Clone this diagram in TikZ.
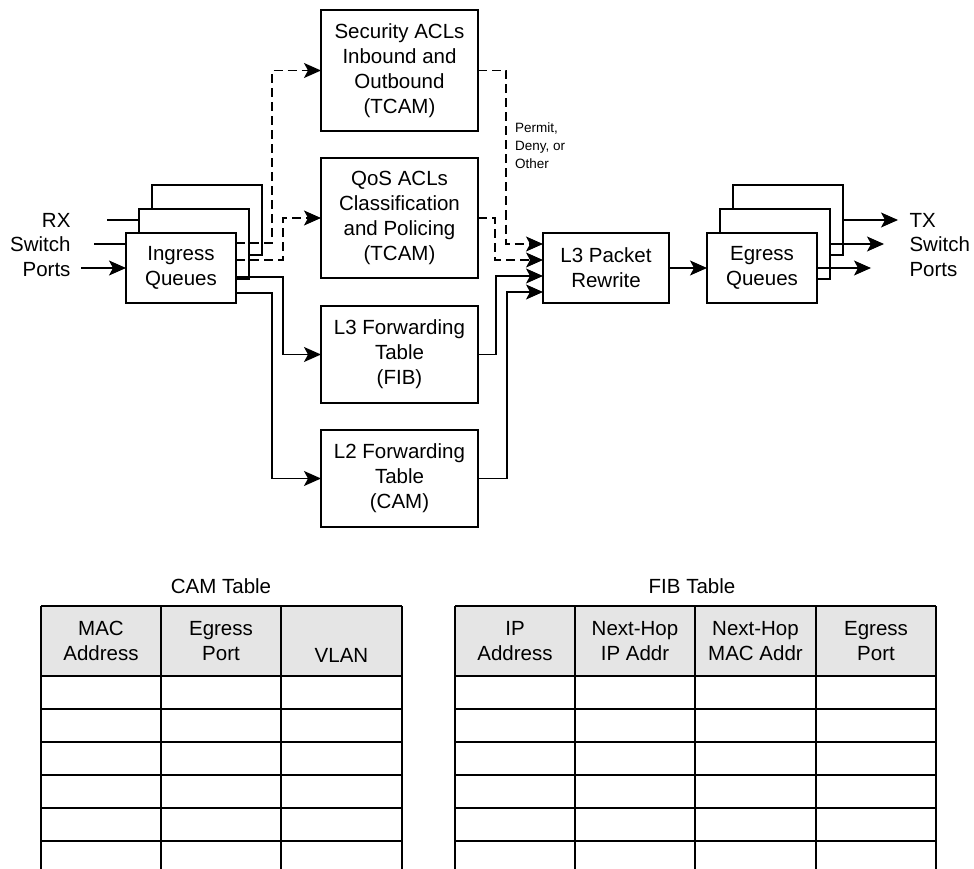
\documentclass[tikz,border=0pt]{standalone}
\usepackage{fontspec}
\setmainfont{Liberation Sans}
\usetikzlibrary{arrows.meta}
\begin{document}
\begin{tikzpicture}[x=1pt,y=-1pt,
  every node/.style={font=\fontsize{20.5}{25}\selectfont, text=black},
  box/.style={draw, line width=1.2pt, fill=white, align=center, outer sep=0pt, inner sep=0pt},
  qbox/.style={box, minimum width=110pt, minimum height=70pt},
  fbox/.style={box, minimum width=157pt},
  ln/.style={line width=1.2pt},
  arr/.style={ln, -{Stealth[length=17pt,width=15pt,inset=4pt]}},
  dsh/.style={dash pattern=on 9pt off 5pt},
  tl/.style={line width=1.3pt},
  hdr/.style={fill=black!10},
  small/.style={font=\fontsize{13.5}{18}\selectfont}
]
\useasboundingbox (0,0) rectangle (974,869);

% ingress queues
\node[qbox] (ib) at (207,220) {};
\node[qbox] (im) at (194,244) {};
\node[qbox] (iq) at (181,268) {Ingress\\Queues};

% lookup boxes
\node[fbox, minimum height=121pt] (sec) at (399.5,70.5) {Security ACLs\\Inbound and\\Outbound\\(TCAM)};
\node[fbox, minimum height=120pt] (qos) at (399.5,218) {QoS ACLs\\Classification\\and Policing\\(TCAM)};
\node[fbox, minimum height=97pt] (l3f) at (399.5,354.5) {L3 Forwarding\\Table\\(FIB)};
\node[fbox, minimum height=97pt] (l2f) at (399.5,478.5) {L2 Forwarding\\Table\\(CAM)};

% rewrite
\node[box, minimum width=126pt, minimum height=70pt] (rw) at (606,268) {L3 Packet\\Rewrite};

% egress queues
\node[qbox] (eb) at (788,220) {};
\node[qbox] (em) at (775,244) {};
\node[qbox] (eq) at (762,268) {Egress\\Queues};

% RX side
\node[anchor=base east] (lrx) at (74,227) {RX};
\node[anchor=base east] (lsw) at (74,251) {Switch};
\node[anchor=base east] (lpo) at (74,276) {Ports};
\coordinate (rxa) at (107,220);
\coordinate (swa) at (94,244);
\coordinate (poa) at (81,268);
\draw[ln] (rxa) -- (rxa -| im.west);
\draw[ln] (swa) -- (swa -| iq.west);
\draw[arr] (poa) -- (iq.west);

% ingress to lookups
\draw[ln,dsh,arr] ([yshift=-10pt]iq.north east) -- ++(36,0) |- (sec.west);
\draw[ln,dsh,arr] ([yshift=-27pt]iq.north east) -- ++(47,0) |- (qos.west);
\draw[arr] ([yshift=-44pt]iq.north east) -- ++(47,0) |- (l3f.west);
\draw[arr] ([yshift=-60pt]iq.north east) -- ++(36,0) |- (l2f.west);

% lookups to rewrite
\draw[ln,dsh,arr] (sec.east) -- ++(28,0) |- ([yshift=-11pt]rw.north west);
\draw[ln,dsh,arr] (qos.east) -- ++(17,0) |- ([yshift=-27pt]rw.north west);
\draw[arr] (l3f.east) -- ++(18,0) |- ([yshift=-43pt]rw.north west);
\draw[arr] (l2f.east) -- ++(29,0) |- ([yshift=-59pt]rw.north west);

\node[small, anchor=north west, align=left, inner sep=0pt] (perm) at (515,122.5) {Permit,\\Deny, or\\Other};

% rewrite to egress
\draw[arr] (rw.east) -- (eq.west);

% TX side
\coordinate (tx1) at (898,220);
\coordinate (tx2) at (884,244);
\coordinate (tx3) at (871,268);
\draw[arr] (eb.east) -- (tx1);
\draw[arr] (em.east) -- (tx2);
\draw[arr] (eq.east) -- (tx3);
\node[anchor=base west] (ltx) at (906,227) {TX};
\node[anchor=base west] (ltsw) at (906,251) {Switch};
\node[anchor=base west] (ltpo) at (906,276) {Ports};

% CAM table
\node[anchor=base] (camt) at (221,593) {CAM Table};
\fill[hdr] (41,606) rectangle (402,676);
\foreach \x in {41,161,281,402} \draw[tl] (\x,606) -- (\x,869);
\foreach \y in {606,676,709,742,775,808,841} \draw[tl] (41,\y) -- (402,\y);
\node[align=center] (c1) at (101,641) {MAC\\Address};
\node[align=center] (c2) at (221,641) {Egress\\Port};
\node[anchor=base] (c3) at (341.5,662) {VLAN};

% FIB table
\node[anchor=base] (fibt) at (692,593) {FIB Table};
\fill[hdr] (455,606) rectangle (936,676);
\foreach \x in {455,575,695,816,936} \draw[tl] (\x,606) -- (\x,869);
\foreach \y in {606,676,709,742,775,808,841} \draw[tl] (455,\y) -- (936,\y);
\node[align=center] (f1) at (515,641) {IP\\Address};
\node[align=center] (f2) at (635,641) {Next-Hop\\IP Addr};
\node[align=center] (f3) at (755.5,641) {Next-Hop\\MAC Addr};
\node[align=center] (f4) at (876,641) {Egress\\Port};
\end{tikzpicture}
\end{document}
